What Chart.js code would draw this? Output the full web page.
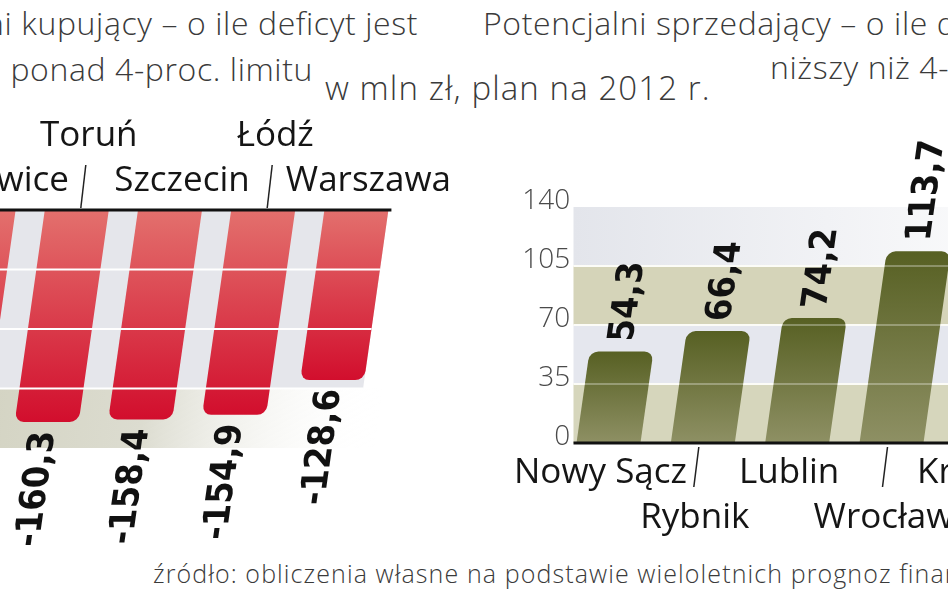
<!DOCTYPE html>
<html lang="pl">
<head>
<meta charset="utf-8">
<script src="https://cdn.jsdelivr.net/npm/chart.js@4.4.1/dist/chart.umd.min.js"></script>
<style>
  html, body { margin: 0; padding: 0; }
  body { width: 948px; height: 593px; overflow: hidden; position: relative; background: #fff; font-family: 'Open Sans', sans-serif; }
  .t { position: absolute; white-space: nowrap; line-height: 1; color: #3a3a3a; font-weight: 300; letter-spacing: 0.6px; }
  canvas { position: absolute; top: 0; }
</style>
</head>
<body>
<div class="t" style="right:530px; top:7px; font-size:32px">Potencjalni kupujący – o ile deficyt jest</div>
<div class="t" style="right:635px; top:53px; font-size:32px">wyższy od ponad 4-proc. limitu</div>
<div class="t" style="left:325px; top:71px; font-size:33px; letter-spacing:1.1px">w mln zł, plan na 2012 r.</div>
<div class="t" style="left:483px; top:7px; font-size:32px">Potencjalni sprzedający – o ile deficyt jest</div>
<div class="t" style="left:770px; top:51px; font-size:32px">niższy niż 4-proc. limitu</div>
<div class="t" style="left:153px; top:561px; font-size:25px; letter-spacing:1.1px">źródło: obliczenia własne na podstawie wieloletnich prognoz finansowych</div>

<canvas id="buyers" width="700" height="593" style="left:-160px"></canvas>
<canvas id="sellers" width="620" height="593" style="left:460px"></canvas>

<script>
// data (mln zł, plan 2012)
const buyerCities = ['Katowice', 'Toruń', 'Szczecin', 'Łódź', 'Warszawa'];
const buyerValues = [-166, -160.3, -158.4, -154.9, -128.6]; // Katowice cut off, estimated
const buyerTicks = [0, -45, -90, -135, -180];

const sellerCities = ['Nowy Sącz', 'Rybnik', 'Lublin', 'Wrocław', 'Kraków'];
const sellerValues = [54.3, 66.4, 74.2, 113.7, null]; // Kraków bar outside the picture
const sellerTicks = [0, 35, 70, 105, 140];

const SLANT = 0.142;
const valueFont = 'bold 36px "DejaVu Sans Condensed", "DejaVu Sans", sans-serif';

function skew(ctx, y0) {
    ctx.transform(1, 0, -SLANT, 1, SLANT * y0, 0);
}

function fmt(v) {
    return v.toFixed(1).replace('.', ',');
}

// two-row labels: even index on one row, odd on the other
function rowLabels(names, oddFirst) {
    return names.map((n, i) => (i % 2 === 1) === oddFirst ? [n, ''] : ['', n]);
}

function barGradient(from, to) {
    return (c) => {
        const chart = c.chart;
        if (!chart.chartArea || c.raw == null) return to;
        const y = chart.scales.y;
        const g = chart.ctx.createLinearGradient(0, y.getPixelForValue(0), 0, y.getPixelForValue(c.raw));
        g.addColorStop(0, from);
        g.addColorStop(1, to);
        return g;
    };
}

const buyersDeco = {
    id: 'buyersDeco',
    beforeDatasetsDraw(chart) {
        const { ctx, chartArea: a, scales: { y } } = chart;
        const bars = chart.getDatasetMeta(0).data;
        const last = bars[bars.length - 1];
        const right = last.x + last.width / 2;
        const y0 = y.getPixelForValue(0);
        ctx.save();
        skew(ctx, y0);
        ctx.fillStyle = '#e5e6eb';
        ctx.fillRect(a.left, y0, right - a.left, y.getPixelForValue(-135) - y0);
        const gb = ctx.createLinearGradient(a.left, 0, right + 20, 0);
        gb.addColorStop(0, '#d0d0bd');
        gb.addColorStop(0.5, '#dcdcd0');
        gb.addColorStop(1, 'rgba(255,255,255,0)');
        ctx.fillStyle = gb;
        ctx.fillRect(a.left, y.getPixelForValue(-135), right + 20 - a.left, y.getPixelForValue(-180) - y.getPixelForValue(-135));
        ctx.restore();
        ctx.save();
        skew(ctx, y0);
    },
    afterDatasetsDraw(chart) {
        const { ctx, chartArea: a, scales: { y } } = chart;
        ctx.restore();
        const bars = chart.getDatasetMeta(0).data;
        const last = bars[bars.length - 1];
        const right = last.x + last.width / 2;
        const y0 = y.getPixelForValue(0);

        ctx.save();
        skew(ctx, y0);
        ctx.strokeStyle = '#ffffff';
        ctx.lineWidth = 2;
        buyerTicks.slice(1, -1).forEach(t => {
            const py = y.getPixelForValue(t);
            ctx.beginPath();
            ctx.moveTo(a.left, py);
            ctx.lineTo(right, py);
            ctx.stroke();
        });
        ctx.fillStyle = '#111';
        ctx.font = valueFont;
        ctx.textAlign = 'right';
        ctx.textBaseline = 'middle';
        bars.forEach((b, i) => {
            const v = buyerValues[i];
            if (v == null) return;
            ctx.save();
            ctx.translate(b.x, b.y + 9);
            ctx.rotate(-Math.PI / 2);
            ctx.fillText(fmt(v), 0, 0);
            ctx.restore();
        });
        ctx.restore();

        ctx.save();
        ctx.strokeStyle = '#111';
        ctx.lineWidth = 3;
        ctx.beginPath();
        ctx.moveTo(0, y0);
        ctx.lineTo(right + 3, y0);
        ctx.stroke();
        ctx.lineWidth = 1.5;
        ctx.strokeStyle = '#222';
        bars.forEach((b, i) => {
            if (i % 2 === 0) return;
            ctx.beginPath();
            ctx.moveTo(b.x + 4, y0 - 2);
            ctx.lineTo(b.x + 9, y0 - 45);
            ctx.stroke();
        });
        ctx.restore();
    }
};

const sellersDeco = {
    id: 'sellersDeco',
    afterLayout(chart) {
        // let the tick labels reach up to the band edge (labels are clipped to the axis box)
        chart.scales.y.right = chart.scales.y.left + 110.3;
    },
    beforeDatasetsDraw(chart) {
        const { ctx, scales: { y } } = chart;
        const first = chart.getDatasetMeta(0).data[0];
        const left = first.x - first.width / 2 - 3;
        const right = chart.width;
        const fills = ['#d6d6bc', '#e5e7ee', '#d5d4b9', '#e3e5eb'];
        ctx.save();
        for (let i = 0; i < sellerTicks.length - 1; i++) {
            const top = y.getPixelForValue(sellerTicks[i + 1]);
            const bot = y.getPixelForValue(sellerTicks[i]);
            const g = ctx.createLinearGradient(left, 0, right, 0);
            g.addColorStop(0, fills[i]);
            g.addColorStop(1, i === 3 ? '#ffffff' : fills[i]);
            ctx.fillStyle = g;
            ctx.fillRect(left, top, right - left, bot - top);
        }
        ctx.strokeStyle = '#fbfbf4';
        ctx.lineWidth = 2;
        sellerTicks.slice(1, -1).forEach(t => {
            const py = y.getPixelForValue(t);
            ctx.beginPath();
            ctx.moveTo(left, py);
            ctx.lineTo(right, py);
            ctx.stroke();
        });
        ctx.restore();
        ctx.save();
        skew(ctx, y.getPixelForValue(0));
    },
    afterDatasetsDraw(chart) {
        const { ctx, scales: { y } } = chart;
        ctx.restore();
        const bars = chart.getDatasetMeta(0).data;
        const left = bars[0].x - bars[0].width / 2 - 3;
        const y0 = y.getPixelForValue(0);

        ctx.save();
        ctx.strokeStyle = 'rgba(255,255,255,0.3)';
        ctx.lineWidth = 2;
        sellerTicks.slice(1, -1).forEach(t => {
            const py = y.getPixelForValue(t);
            ctx.beginPath();
            ctx.moveTo(left, py);
            ctx.lineTo(chart.width, py);
            ctx.stroke();
        });
        ctx.strokeStyle = '#111';
        ctx.lineWidth = 3;
        ctx.beginPath();
        ctx.moveTo(left, y0);
        ctx.lineTo(chart.width, y0);
        ctx.stroke();
        ctx.lineWidth = 1.5;
        ctx.strokeStyle = '#222';
        bars.forEach((b, i) => {
            if (i % 2 === 0) return;
            ctx.beginPath();
            ctx.moveTo(b.x - 4, y0 + 4);
            ctx.lineTo(b.x - 9, y0 + 44);
            ctx.stroke();
        });

        skew(ctx, y0);
        ctx.fillStyle = '#111';
        ctx.font = valueFont;
        ctx.textAlign = 'left';
        ctx.textBaseline = 'middle';
        bars.forEach((b, i) => {
            const v = sellerValues[i];
            if (v == null) return;
            ctx.save();
            ctx.translate(b.x, b.y - 10);
            ctx.rotate(-Math.PI / 2);
            ctx.fillText(fmt(v), 0, 0);
            ctx.restore();
        });
        ctx.restore();
    }
};

const catFont = { family: "'Open Sans', sans-serif", size: 35, lineHeight: 1.286 };

new Chart(document.getElementById('buyers'), {
    type: 'bar',
    data: {
        labels: rowLabels(buyerCities, true),
        datasets: [{
            data: buyerValues,
            backgroundColor: barGradient('#e3706d', '#d20e2d'),
            borderRadius: 9,
            borderSkipped: 'start',
            barPercentage: 0.687,
            categoryPercentage: 1,
            clip: false
        }]
    },
    options: {
        responsive: false,
        animation: false,
        devicePixelRatio: 1,
        layout: { padding: { left: 97, right: 137, top: 0, bottom: 145 } },
        plugins: { legend: { display: false }, tooltip: { enabled: false } },
        scales: {
            x: {
                position: 'top',
                grid: { display: false, drawTicks: false },
                border: { display: false },
                ticks: {
                    color: '#151515', font: catFont, padding: 6, labelOffset: 12,
                    autoSkip: false, maxRotation: 0, minRotation: 0
                },
                afterFit(scale) { scale.height = 210; }
            },
            y: {
                display: false,
                min: buyerTicks[buyerTicks.length - 1],
                max: buyerTicks[0]
            }
        }
    },
    plugins: [buyersDeco]
});

new Chart(document.getElementById('sellers'), {
    type: 'bar',
    data: {
        labels: rowLabels(sellerCities, false),
        datasets: [{
            data: sellerValues,
            backgroundColor: barGradient('#8e9064', '#576023'),
            borderRadius: 9,
            borderSkipped: 'start',
            barPercentage: 0.678,
            categoryPercentage: 1,
            clip: false
        }]
    },
    options: {
        responsive: false,
        animation: false,
        devicePixelRatio: 1,
        layout: { padding: { left: 0, right: 47, top: 207, bottom: 0 } },
        plugins: { legend: { display: false }, tooltip: { enabled: false } },
        scales: {
            x: {
                grid: { display: false, drawTicks: false },
                border: { display: false },
                ticks: {
                    color: '#151515', font: catFont, padding: 8, labelOffset: -8,
                    autoSkip: false, maxRotation: 0, minRotation: 0
                },
                afterFit(scale) { scale.height = 150; }
            },
            y: {
                min: sellerTicks[0],
                max: sellerTicks[sellerTicks.length - 1],
                grid: { display: false, drawTicks: false },
                border: { display: false },
                afterBuildTicks(scale) { scale.ticks = sellerTicks.map(v => ({ value: v })); },
                ticks: {
                    z: 1,
                    color: '#4a4a4a',
                    font: { family: "'Open Sans', sans-serif", size: 28, weight: 300 },
                    padding: 0,
                    labelOffset: -6
                },
                afterFit(scale) { scale.width = 101.3; }
            }
        }
    },
    plugins: [sellersDeco]
});
</script>
</body>
</html>
